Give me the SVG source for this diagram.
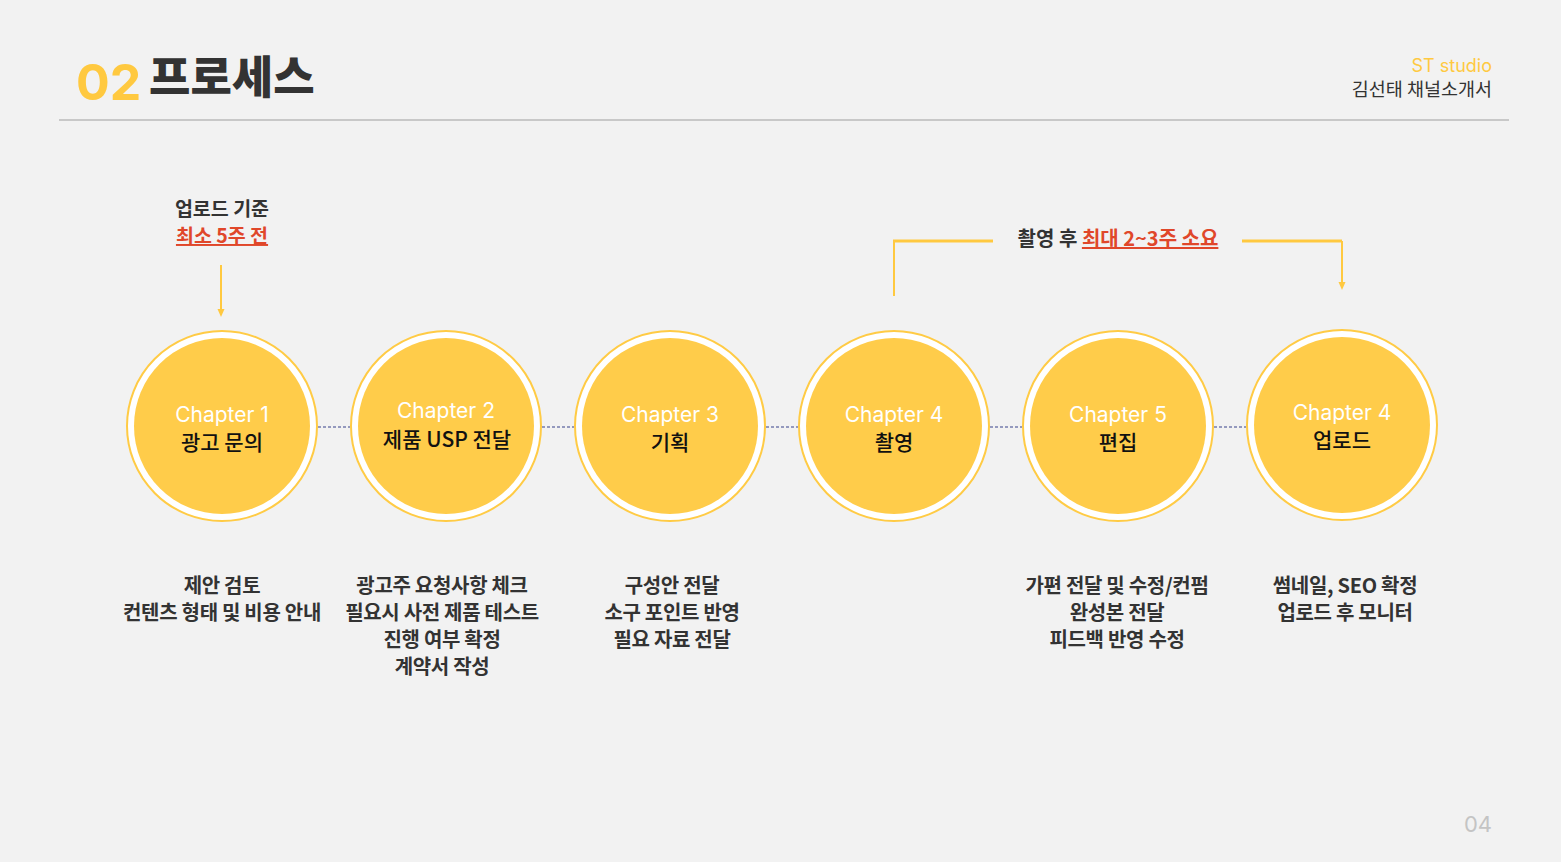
<svg xmlns="http://www.w3.org/2000/svg" width="1561" height="862" viewBox="0 0 1561 862">
<defs>
<style>
text{font-family:Inter,"Noto Sans CJK KR",sans-serif;}
.kr{font-family:"Noto Sans CJK KR",sans-serif;}
.ring{fill:#ffffff;stroke:#ffcb45;stroke-width:2;}
.core{fill:#ffcc4a;}
.ch{fill:#ffffff;font-size:21px;text-anchor:middle;}
.nm{fill:#111111;font-size:21px;text-anchor:middle;font-family:"Noto Sans CJK KR",sans-serif;font-weight:500;}
.desc{fill:#333333;font-size:20px;font-weight:700;text-anchor:middle;font-family:"Noto Sans CJK KR",sans-serif;letter-spacing:-0.3px;}
.dash{stroke:#36408a;stroke-width:1;stroke-dasharray:3 2;fill:none;}
.yl{stroke:#ffc940;fill:none;}
.red{fill:#e0472a;text-decoration:underline;}
</style>
</defs>
<rect width="1561" height="862" fill="#f2f2f2"/>

<g id="header">
<text x="76" y="100" font-size="50" font-weight="700" fill="#ffc940" font-family="Inter,sans-serif">02</text>
<text x="149" y="94" font-size="45" font-weight="900" fill="#333333" class="kr">프로세스</text>
<text x="1492" y="72" font-size="18" fill="#ffc940" text-anchor="end">ST studio</text>
<text x="1492" y="96" font-size="18.5" fill="#333333" text-anchor="end" class="kr">김선태 채널소개서</text>
<line x1="59" y1="120" x2="1509" y2="120" stroke="#c8c8c8" stroke-width="2"/>
</g>

<g id="connectors">
<line class="dash" x1="318" y1="427" x2="350" y2="427"/>
<line class="dash" x1="542" y1="427" x2="574" y2="427"/>
<line class="dash" x1="766" y1="427" x2="798" y2="427"/>
<line class="dash" x1="990" y1="427" x2="1022" y2="427"/>
<line class="dash" x1="1214" y1="427" x2="1246" y2="427"/>
<path class="yl" stroke-width="2" d="M221,265 L221,310"/>
<path d="M217.5,309 L221,317 L224.5,309 Z" fill="#ffc940"/>
<path class="yl" stroke-width="2" d="M894,296 L894,241"/>
<path class="yl" stroke-width="3" d="M893,241 L993,241"/>
<path class="yl" stroke-width="3" d="M1242,241 L1342,241"/>
<path class="yl" stroke-width="2" d="M1342,241 L1342,283"/>
<path d="M1338.5,282 L1342,290 L1345.5,282 Z" fill="#ffc940"/>
</g>

<g id="note-upload">
<text x="222" y="216" font-size="19.5" font-weight="700" fill="#333333" text-anchor="middle" class="kr">업로드 기준</text>
<text x="222" y="243" font-size="19.5" font-weight="700" text-anchor="middle" class="kr red">최소 5주 전</text>
</g>

<g id="note-shoot">
<text x="1118" y="246" font-size="20" font-weight="700" fill="#333333" text-anchor="middle" class="kr">촬영 후 <tspan class="red">최대 2~3주 소요</tspan></text>
</g>

<g id="node1">
<circle class="ring" cx="222" cy="426" r="95"/>
<circle class="core" cx="222" cy="426" r="88"/>
<text class="ch" x="222" y="422">Chapter 1</text>
<text class="nm" x="222" y="450">광고 문의</text>
<text class="desc" x="222" y="593">제안 검토</text>
<text class="desc" x="222" y="620">컨텐츠 형태 및 비용 안내</text>
</g>

<g id="node2">
<circle class="ring" cx="446" cy="426" r="95"/>
<circle class="core" cx="446" cy="426" r="88"/>
<text class="ch" x="446" y="418">Chapter 2</text>
<text class="nm" x="447" y="447">제품 USP 전달</text>
<text class="desc" x="442" y="593">광고주 요청사항 체크</text>
<text class="desc" x="442" y="620">필요시 사전 제품 테스트</text>
<text class="desc" x="442" y="647">진행 여부 확정</text>
<text class="desc" x="442" y="674">계약서 작성</text>
</g>

<g id="node3">
<circle class="ring" cx="670" cy="426" r="95"/>
<circle class="core" cx="670" cy="426" r="88"/>
<text class="ch" x="670" y="422">Chapter 3</text>
<text class="nm" x="670" y="450">기획</text>
<text class="desc" x="672" y="593">구성안 전달</text>
<text class="desc" x="672" y="620">소구 포인트 반영</text>
<text class="desc" x="672" y="647">필요 자료 전달</text>
</g>

<g id="node4">
<circle class="ring" cx="894" cy="426" r="95"/>
<circle class="core" cx="894" cy="426" r="88"/>
<text class="ch" x="894" y="422">Chapter 4</text>
<text class="nm" x="894" y="450">촬영</text>
</g>

<g id="node5">
<circle class="ring" cx="1118" cy="426" r="95"/>
<circle class="core" cx="1118" cy="426" r="88"/>
<text class="ch" x="1118" y="422">Chapter 5</text>
<text class="nm" x="1118" y="450">편집</text>
<text class="desc" x="1117" y="593">가편 전달 및 수정/컨펌</text>
<text class="desc" x="1117" y="620">완성본 전달</text>
<text class="desc" x="1117" y="647">피드백 반영 수정</text>
</g>

<g id="node6">
<circle class="ring" cx="1342" cy="425" r="95"/>
<circle class="core" cx="1342" cy="425" r="88"/>
<text class="ch" x="1342" y="420">Chapter 4</text>
<text class="nm" x="1342" y="448">업로드</text>
<text class="desc" x="1345" y="593">썸네일, SEO 확정</text>
<text class="desc" x="1345" y="620">업로드 후 모니터</text>
</g>

<g id="footer">
<text x="1478" y="832" font-size="22" fill="#c4c4c4" text-anchor="middle">04</text>
</g>
</svg>
